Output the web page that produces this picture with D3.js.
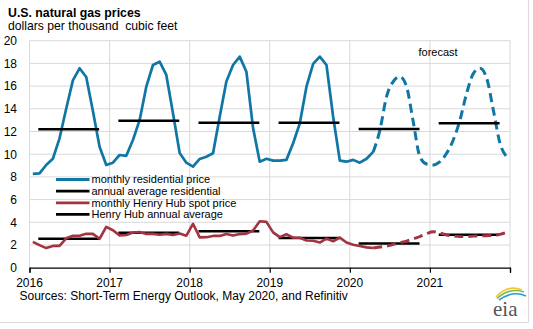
<!DOCTYPE html>
<html><head><meta charset="utf-8">
<script src="https://cdn.jsdelivr.net/npm/d3@7"></script>
<style>
html,body{margin:0;padding:0;background:#fff;}
svg{display:block;font-family:"Liberation Sans",Arial,sans-serif;}
</style></head>
<body><svg id="c" width="533" height="329"></svg>
<script>
// ---- data ----
const years = [2016, 2017, 2018, 2019, 2020, 2021];
const yTicks = [0, 2, 4, 6, 8, 10, 12, 14, 16, 18, 20];
const xTickLabels = ["2016", "2017", "2018", "2019", "2020", "2021"];
const residential = [
  8.26, 8.31, 9.05, 9.6, 11.4, 14.0, 16.5, 17.57, 16.8, 13.8, 10.66, 9.05,
  9.25, 9.93, 9.86, 11.25, 13.0, 15.95, 17.86, 18.15, 16.98, 13.6, 10.1, 9.25,
  8.9, 9.58, 9.78, 10.08, 13.3, 16.4, 17.86, 18.6, 17.27, 12.3, 9.34, 9.6,
  9.43, 9.43, 9.5, 10.96, 12.7, 15.95, 17.95, 18.6, 17.86, 13.3, 9.43, 9.34,
  9.5, 9.25, 9.6, 10.2, 12.1, 15.07, 16.4, 16.83, 15.95, 12.86, 9.78, 9.14,
  9.05, 9.34, 10.08, 11.25, 13.0, 15.36, 17.1, 17.57, 16.7, 13.9, 10.96, 9.78
];
const henryHub = [
  2.28, 1.99, 1.73, 1.92, 1.92, 2.59, 2.82, 2.82, 2.99, 2.98, 2.55, 3.59,
  3.30, 2.85, 2.88, 3.10, 3.15, 2.98, 2.98, 2.90, 2.98, 2.88, 3.01, 2.82,
  3.87, 2.67, 2.69, 2.80, 2.80, 2.97, 2.83, 2.96, 3.00, 3.28, 4.09, 4.04,
  3.11, 2.69, 2.95, 2.65, 2.64, 2.40, 2.37, 2.22, 2.56, 2.33, 2.65, 2.22,
  2.02, 1.91, 1.79, 1.74, 1.82, 1.90, 2.05, 2.20, 2.35, 2.55, 2.75, 3.00,
  3.17, 3.05, 2.88, 2.79, 2.74, 2.74, 2.78, 2.80, 2.82, 2.85, 2.94, 3.12
];
const lastActualIndex = 51; // April 2020; forecast afterwards
const residentialAnnual = [12.19, 12.95, 12.78, 12.78, 12.22, 12.72];
const henryHubAnnual = [2.55, 3.08, 3.22, 2.62, 2.14, 2.9];
const legendLabels = ["monthly residential price", "annual average residential",
  "monthly Henry Hub spot price", "Henry Hub annual average"];

// ---- layout ----
const BLUE = "#0f76a6", RED = "#a33340", GRID = "#d9d9d9";
const svg = d3.select("#c");
const x = d3.scaleLinear().domain([2016, 2022]).range([29.5, 510]);
const y = d3.scaleLinear().domain([0, 20]).range([267.7, 40.7]);
const mx = i => x(2016 + (i + 0.5) / 12);

// outer frame (right & bottom)
svg.append("line").attr("x1", 528.5).attr("x2", 528.5).attr("y1", 0).attr("y2", 322.5)
  .attr("stroke", "#dcdcdc").attr("stroke-width", 1.2);
svg.append("line").attr("x1", 0).attr("x2", 528.5).attr("y1", 322.5).attr("y2", 322.5)
  .attr("stroke", "#dcdcdc").attr("stroke-width", 1.2);

// gridlines
const g = svg.append("g");
g.selectAll(".hg").data(yTicks.filter(d => d > 0)).join("line")
  .attr("x1", x(2016)).attr("x2", x(2022))
  .attr("y1", d => y(d)).attr("y2", d => y(d))
  .attr("stroke", GRID).attr("stroke-width", 1);
g.selectAll(".vg").data(d3.range(2016, 2023)).join("line")
  .attr("x1", d => x(d)).attr("x2", d => x(d))
  .attr("y1", y(0)).attr("y2", y(20))
  .attr("stroke", GRID).attr("stroke-width", 1);

// y axis labels
svg.append("g").selectAll("text").data(yTicks).join("text")
  .attr("x", 17).attr("y", d => y(d)).attr("dy", "0.36em")
  .attr("text-anchor", "end").attr("font-size", 12).attr("fill", "#000")
  .text(d => d);

// x axis
const xAxis = d3.axisBottom(x).tickValues(d3.range(2016, 2023)).tickSize(5).tickFormat("");
const ax = svg.append("g").attr("transform", `translate(0,${y(0)})`).call(xAxis);
ax.select(".domain").attr("stroke", "#000").attr("stroke-width", 1.2);
ax.selectAll(".tick line").attr("stroke", "#000").attr("stroke-width", 1.2);
svg.append("g").selectAll("text").data(xTickLabels).join("text")
  .attr("x", (d, i) => x(years[i])).attr("y", 287)
  .attr("text-anchor", "middle").attr("font-size", 12).text(d => d);

// lines
const line = d3.line().x(d => mx(d.i)).y(d => y(d.v));
const smooth = d3.line().x(d => mx(d.i)).y(d => y(d.v)).curve(d3.curveMonotoneX);
const resPts = residential.map((v, i) => ({i, v}));
const hhPts = henryHub.map((v, i) => ({i, v}));

// Henry Hub annual
svg.append("g").selectAll("line").data(henryHubAnnual).join("line")
  .attr("x1", (d, i) => x(years[i] + 0.11)).attr("x2", (d, i) => x(years[i] + 0.87))
  .attr("y1", d => y(d)).attr("y2", d => y(d))
  .attr("stroke", "#000").attr("stroke-width", 2.5);

// Henry Hub monthly
svg.append("path").datum(hhPts.slice(0, lastActualIndex + 1)).attr("d", line)
  .attr("fill", "none").attr("stroke", RED).attr("stroke-width", 2.6).attr("stroke-linejoin", "round");
svg.append("path").datum(hhPts.slice(lastActualIndex)).attr("d", smooth)
  .attr("fill", "none").attr("stroke", RED).attr("stroke-width", 2.9)
  .attr("stroke-dasharray", "9,5");

// residential monthly
svg.append("path").datum(resPts.slice(0, lastActualIndex + 1)).attr("d", line)
  .attr("fill", "none").attr("stroke", BLUE).attr("stroke-width", 2.7).attr("stroke-linejoin", "round");
svg.append("path").datum(resPts.slice(lastActualIndex)).attr("d", smooth)
  .attr("fill", "none").attr("stroke", BLUE).attr("stroke-width", 3)
  .attr("stroke-dasharray", "9,5");

// residential annual
svg.append("g").selectAll("line").data(residentialAnnual).join("line")
  .attr("x1", (d, i) => x(years[i] + 0.11)).attr("x2", (d, i) => x(years[i] + 0.87))
  .attr("y1", d => y(d)).attr("y2", d => y(d))
  .attr("stroke", "#000").attr("stroke-width", 2.5);

// forecast label
svg.append("text").attr("x", 418.5).attr("y", 56).attr("font-size", 11).text("forecast");

// legend
const legColors = [BLUE, "#000", RED, "#000"];
const legY = [179.5, 191.2, 202.8, 214.4];
const leg = svg.append("g");
legendLabels.forEach((t, i) => {
  leg.append("line").attr("x1", 56).attr("x2", 89.5).attr("y1", legY[i]).attr("y2", legY[i])
    .attr("stroke", legColors[i]).attr("stroke-width", 2.8);
  leg.append("text").attr("x", 91.5).attr("y", legY[i]).attr("dy", "0.35em")
    .attr("font-size", 11).text(t);
});

// titles
svg.append("text").attr("x", 8).attr("y", 17).attr("font-size", 12.3).attr("font-weight", "bold").text("U.S. natural gas prices");
svg.append("text").attr("x", 8).attr("y", 30).attr("font-size", 12.2).style("white-space", "pre")
  .text("dollars per thousand  cubic feet");
svg.append("text").attr("x", 19.5).attr("y", 300).attr("font-size", 12)
  .text("Sources: Short-Term Energy Outlook, May 2020, and Refinitiv");

// eia logo
const logo = svg.append("g");
logo.append("path").attr("d", "M496,297 Q508,284 522,290").attr("fill", "none").attr("stroke", "#f2c53d").attr("stroke-width", 1.6);
logo.append("path").attr("d", "M497,298.5 Q510,287 524,292").attr("fill", "none").attr("stroke", "#7dbb42").attr("stroke-width", 1.6);
logo.append("path").attr("d", "M499,300 Q513,290 526,296").attr("fill", "none").attr("stroke", "#1fa0d8").attr("stroke-width", 1.6);
logo.append("text").attr("x", 493).attr("y", 316).attr("font-size", 21)
  .attr("font-family", "'Liberation Serif','DejaVu Serif',serif").attr("fill", "#555").text("eia");
</script></body></html>
